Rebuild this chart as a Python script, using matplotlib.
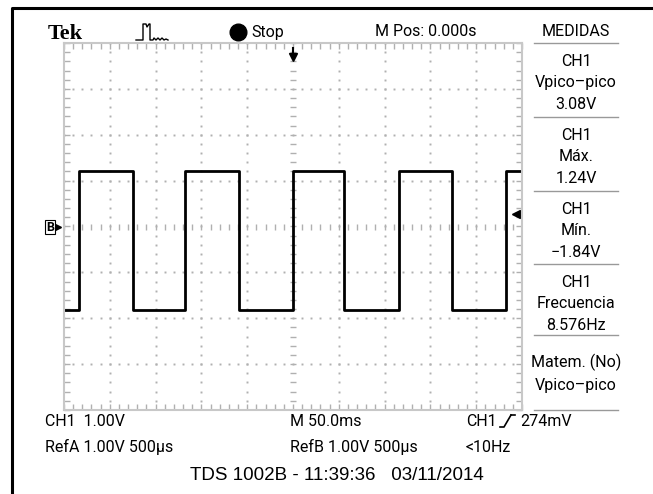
import matplotlib
matplotlib.use("Agg")
import matplotlib.pyplot as plt
import numpy as np

# datos (ms, V)
t_ms = [-250, -233.6, -175.0, -117.6, -59.3, 0.0, 56.0, 115.7, 173.3, 232.2, 250]
v_ch1 = [-1.82, 1.20, -1.82, 1.20, -1.82, 1.20, -1.82, 1.20, -1.82, 1.20, 1.20]

medidas = [("CH1", "Vpico\u2013pico", "3.08V"),
           ("CH1", "Máx.", "1.24V"),
           ("CH1", "Mín.", "\u22121.84V"),
           ("CH1", "Frecuencia", "8.576Hz")]

fam = ["Roboto", "DejaVu Sans"]

W, H = 653, 494
fig = plt.figure(figsize=(W / 100, H / 100), dpi=100)

# capa de fondo en pixeles
bg = fig.add_axes([0, 0, 1, 1])
bg.set_xlim(0, W)
bg.set_ylim(H, 0)
bg.axis("off")

# marco exterior
bg.plot([12, 12, W + 5], [H + 5, 8, 8], color="black", lw=2.2)

fs = 11.5
bg.text(48, 39, "Tek", family="Liberation Serif", weight="bold", fontsize=16, va="baseline")
# icono de disparo
bg.plot([136, 143, 143, 146, 147, 149, 150, 150, 153, 154, 156, 158, 160, 162, 164, 166, 168],
        [40, 40, 24, 24, 27, 24, 24, 40, 40, 38, 40, 38, 40, 38, 40, 39, 40], color="black", lw=1)
bg.plot(238, 32, "o", color="black", ms=12)
bg.text(251, 32, "Stop", family=fam, fontsize=fs, va="center")
bg.text(375, 32, "M Pos: 0.000s", family=fam, fontsize=fs, va="center")
bg.text(576, 32, "MEDIDAS", family=fam, fontsize=fs, va="center", ha="center")

# panel derecho
sep_y = [43, 117, 191, 264, 335, 410]
for y in sep_y:
    bg.plot([534, 618], [y, y], color="#999999", lw=1)
for i, (a, b, c) in enumerate(medidas):
    y0 = sep_y[i]
    for j, s in enumerate((a, b, c)):
        bg.text(576, y0 + 18 + j * 21.5, s, family=fam, fontsize=fs, ha="center", va="center")
bg.text(576, 362, "Matem. (No)", family=fam, fontsize=fs, ha="center", va="center")
bg.text(576, 385, "Vpico\u2013pico", family=fam, fontsize=fs, ha="center", va="center")

# textos inferiores
bg.text(45, 421, "CH1  1.00V", family=fam, fontsize=fs, va="center")
bg.text(45, 447, "RefA 1.00V 500\u00b5s", family=fam, fontsize=fs, va="center")
bg.text(290, 421, "M 50.0ms", family=fam, fontsize=fs, va="center")
bg.text(290, 447, "RefB 1.00V 500\u00b5s", family=fam, fontsize=fs, va="center")
bg.text(466, 421, "CH1", family=fam, fontsize=fs, va="center")
bg.plot([500, 504, 511], [427, 427, 415], color="black", lw=1.2)
bg.plot([511, 515], [415, 415], color="black", lw=1.2)
bg.text(520, 421, "274mV", family=fam, fontsize=fs, va="center")
bg.text(466, 447, "<10Hz", family=fam, fontsize=fs, va="center")
bg.text(190, 475, "TDS 1002B - 11:39:36   03/11/2014", family="Liberation Sans",
        fontsize=13.5, va="center")

# pantalla del osciloscopio
x0, x1, y0, y1 = 64, 522, 43, 410
ax = fig.add_axes([x0 / W, 1 - y1 / H, (x1 - x0) / W, (y1 - y0) / H])
ax.set_xlim(-250, 250)
ax.set_ylim(-4, 4)
gc = "#b0b0b0"
for s in ax.spines.values():
    s.set_color("#c8c8c8")
    s.set_linewidth(1.5)
mx = np.arange(-250, 250.1, 10)
my = np.arange(-4, 4.01, 0.2)
# marcas en los bordes hacia dentro
ax.set_xticks(mx)
ax.set_yticks(my)
ax.set_xticklabels([])
ax.set_yticklabels([])
ax.tick_params(direction="in", length=4, width=1, color=gc, top=True, right=True)
# puntos de la reticula
for gx in np.arange(-200, 201, 50):
    if gx != 0:
        ax.plot(np.full_like(my, gx), my, ls="none", marker="s", ms=1.4, color=gc, mew=0)
for gy in np.arange(-3, 3.1, 1):
    if gy != 0:
        ax.plot(mx, np.full_like(mx, gy), ls="none", marker="s", ms=1.4, color=gc, mew=0)
# ejes centrales con marcas
ax.plot(mx, np.zeros_like(mx), ls="none", marker="|", ms=4, color=gc, mew=1)
ax.plot(np.zeros_like(my), my, ls="none", marker="_", ms=4, color=gc, mew=1)

ax.plot(t_ms, v_ch1, drawstyle="steps-post", color="black", lw=2)

# marcadores
ax.plot(0, 3.7, marker="v", color="black", ms=6, clip_on=False)
ax.plot([0, 0], [3.7, 3.9], color="black", lw=1.5)
ax.plot(243, 0.274, marker="<", color="black", ms=6, clip_on=False)
ax.plot([243, 249], [0.274, 0.274], color="black", lw=1.5)
bg.text(50, 227, "B", family=fam, fontsize=9, weight="bold", ha="center", va="center",
        bbox=dict(boxstyle="square,pad=0.05", fc="white", ec="black", lw=0.8))
bg.plot(58, 227, marker=">", color="black", ms=4)

fig.savefig("out.png", dpi=100)
